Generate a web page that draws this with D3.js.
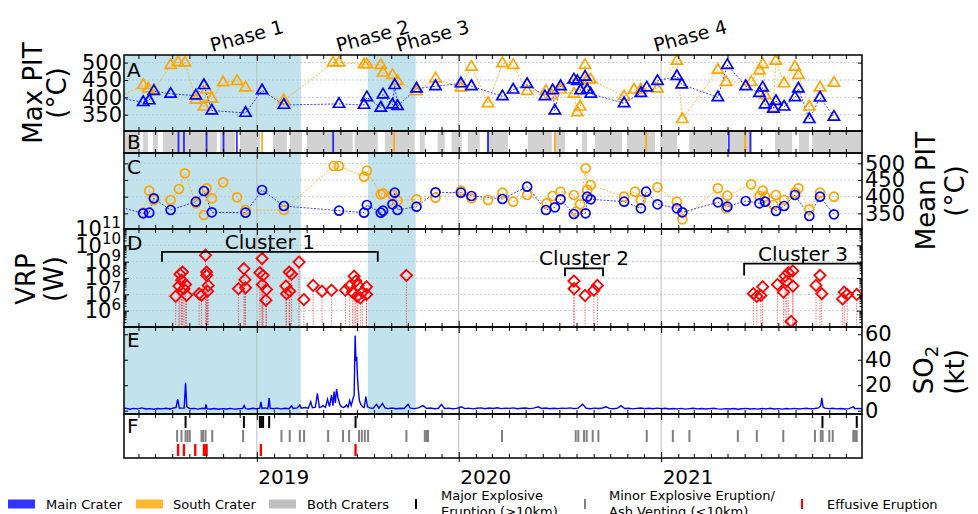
<!DOCTYPE html>
<html><head><meta charset="utf-8">
<script src="https://cdn.jsdelivr.net/npm/d3@7"></script>
<style>body{margin:0;background:#fff} svg text{font-family:"DejaVu Sans",sans-serif;fill:#000}</style>
</head><body><svg id="c" width="978" height="514"></svg>
<script>
// ---------------- DATA (dates as decimal years) ----------------
const phaseShade = [[2018.30, 2019.218], [2019.550, 2019.787]];
const phaseNames = ["Phase 1", "Phase 2", "Phase 3", "Phase 4"];
const phaseLabelAt = [2018.950, 2019.574, 2019.871, 2021.144];

const mainMaxPIT = [[2018.30,400],[2018.437,386],[2018.467,391],[2018.490,418],[2018.573,410],[2018.698,405],[2018.738,435],[2018.777,362],[2018.944,355],[2019.026,420],[2019.134,378],[2019.407,381],[2019.531,378],[2019.545,400],[2019.614,370],[2019.625,408],[2019.672,379],[2019.683,435],[2019.697,375],[2019.791,425],[2019.885,432],[2020.011,440],[2020.063,432],[2020.216,403],[2020.269,422],[2020.338,438],[2020.426,403],[2020.464,420],[2020.475,362],[2020.503,432],[2020.569,451],[2020.586,447],[2020.602,420],[2020.624,459],[2020.635,422],[2020.652,410],[2020.817,383],[2020.900,412],[2020.929,428],[2020.982,447],[2021.078,461],[2021.102,437],[2021.281,400],[2021.328,493],[2021.419,432],[2021.487,412],[2021.503,428],[2021.515,379],[2021.556,367],[2021.569,389],[2021.609,373],[2021.663,400],[2021.680,425],[2021.734,337],[2021.787,399],[2021.856,344]];

const southMaxPIT = [[2018.30,396],[2018.437,435],[2018.462,425],[2018.490,420],[2018.573,493],[2018.610,501],[2018.644,500],[2018.698,393],[2018.738,373],[2018.751,422],[2018.777,396],[2018.833,443],[2018.902,447],[2018.944,428],[2019.134,391],[2019.378,500],[2019.407,500],[2019.531,495],[2019.545,495],[2019.614,493],[2019.625,471],[2019.672,464],[2019.697,447],[2019.791,417],[2019.885,454],[2020.011,428],[2020.063,488],[2020.145,383],[2020.216,498],[2020.269,493],[2020.338,418],[2020.431,418],[2020.459,406],[2020.503,422],[2020.569,410],[2020.586,357],[2020.600,373],[2020.624,493],[2020.635,451],[2020.652,451],[2020.817,403],[2020.866,422],[2020.900,422],[2020.982,425],[2021.078,505],[2021.105,337],[2021.281,479],[2021.322,444],[2021.446,444],[2021.487,477],[2021.503,495],[2021.515,406],[2021.556,370],[2021.568,505],[2021.609,440],[2021.663,488],[2021.680,464],[2021.734,373],[2021.787,428],[2021.856,442]];

const mainMeanPIT = [[2018.30,372],[2018.437,350],[2018.467,352],[2018.490,395],[2018.573,360],[2018.698,385],[2018.738,417],[2018.777,353],[2018.944,352],[2019.026,420],[2019.134,372],[2019.407,358],[2019.531,352],[2019.545,375],[2019.614,352],[2019.625,358],[2019.672,377],[2019.683,412],[2019.697,360],[2019.791,370],[2019.885,413],[2020.011,412],[2020.063,402],[2020.216,393],[2020.338,430],[2020.431,360],[2020.475,368],[2020.503,392],[2020.569,348],[2020.627,350],[2020.635,400],[2020.652,392],[2020.817,385],[2020.900,365],[2020.926,415],[2020.982,377],[2021.078,365],[2021.105,353],[2021.281,383],[2021.328,370],[2021.419,387],[2021.487,380],[2021.515,385],[2021.569,357],[2021.609,372],[2021.663,405],[2021.734,342],[2021.787,400],[2021.856,347]];

const southMeanPIT = [[2018.437,352],[2018.467,418],[2018.490,390],[2018.573,390],[2018.614,423],[2018.644,470],[2018.698,380],[2018.738,345],[2018.751,425],[2018.777,395],[2018.833,443],[2018.902,398],[2018.944,360],[2019.134,360],[2019.381,492],[2019.407,492],[2019.531,460],[2019.545,478],[2019.614,407],[2019.625,410],[2019.672,405],[2019.697,388],[2019.791,392],[2019.885,397],[2020.011,418],[2020.063,395],[2020.145,390],[2020.216,412],[2020.269,385],[2020.338,405],[2020.434,380],[2020.464,402],[2020.503,415],[2020.569,405],[2020.579,355],[2020.600,377],[2020.627,485],[2020.635,420],[2020.652,435],[2020.817,400],[2020.871,415],[2020.900,390],[2020.982,428],[2021.078,385],[2021.105,332],[2021.281,425],[2021.322,365],[2021.328,403],[2021.446,437],[2021.487,402],[2021.503,418],[2021.515,400],[2021.556,375],[2021.568,405],[2021.609,390],[2021.663,412],[2021.680,425],[2021.734,362],[2021.787,412],[2021.856,400]];

// Panel B: detection coverage (both craters), main-only and south-only days
const bothCraterSpans = [[2018.347,2018.411],[2018.436,2018.460],[2018.485,2018.510],[2018.535,2018.802],[2018.817,2018.891],[2018.916,2019.015],[2019.079,2019.149],[2019.163,2019.223],[2019.248,2019.475],[2019.485,2019.599],[2019.634,2019.782],[2019.807,2019.832],[2019.896,2019.931],[2019.965,2020.015],[2020.045,2020.104],[2020.139,2020.243],[2020.342,2020.460],[2020.475,2020.525],[2020.609,2020.634],[2020.673,2020.807],[2020.832,2020.970],[2020.995,2021.079],[2021.139,2021.327],[2021.337,2021.450],[2021.564,2021.649],[2021.683,2021.733],[2021.748,2021.995]];
const mainOnlyDays = [2018.612,2018.639,2018.751,2018.835,2018.901,2019.378,2020.145,2021.335,2021.442];
const southOnlyDays = [2019.026,2019.680,2020.475,2020.926,2021.417];

// Panel D: VRP (W)
const vrp = [[2018.598,7.6e6],[2018.614,3.2e7],[2018.619,1.7e8],[2018.627,7.4e7],[2018.632,2.3e8],[2018.639,2.2e7],[2018.647,4.0e7],[2018.652,8.7e6],[2018.714,1.1e7],[2018.726,8.7e6],[2018.746,2.5e9],[2018.751,2.3e8],[2018.752,1.45e8],[2018.756,1.55e7],[2018.759,3.5e7],[2018.909,2.2e7],[2018.936,3.7e8],[2018.941,7.9e7],[2018.944,2.5e7],[2019.015,2.1e8],[2019.026,1.55e9],[2019.031,1.45e8],[2019.027,4.0e7],[2019.048,2.0e7],[2019.045,4.4e6],[2019.144,3.2e7],[2019.147,1.1e7],[2019.160,2.3e8],[2019.172,1.7e8],[2019.163,1.55e7],[2019.209,9.5e8],[2019.233,4.8e6],[2019.279,3.5e7],[2019.323,1.55e7],[2019.370,1.8e7],[2019.439,1.8e7],[2019.460,3.2e7],[2019.474,1.35e7],[2019.482,1.3e8],[2019.490,6.5e7],[2019.497,7.6e6],[2019.501,3.5e7],[2019.513,6.0e6],[2019.523,1.35e7],[2019.543,2.9e7],[2019.544,9.8e6],[2019.741,1.45e8],[2020.569,6.5e7],[2020.570,2.2e7],[2020.624,8.5e6],[2020.668,1.8e7],[2020.685,3.5e7],[2021.457,1.1e7],[2021.474,7.6e6],[2021.494,8.5e6],[2021.503,2.9e7],[2021.576,4.0e7],[2021.606,1.35e7],[2021.614,1.3e8],[2021.622,6.5e7],[2021.630,2.1e8],[2021.644,2.2e5],[2021.652,2.7e8],[2021.653,3.2e7],[2021.767,3.5e7],[2021.787,1.45e8],[2021.796,1.1e7],[2021.899,5.2e6],[2021.907,1.35e7],[2021.922,9.8e6],[2021.969,9.8e6]];
const clusterNames = ["Cluster 1", "Cluster 2", "Cluster 3"];
const clusterSpans = [[2018.530, 2019.599], [2020.525, 2020.713], [2021.411, 2021.995]];

// Panel E: SO2 (kt)
const so2 = [[2018.33,1.5],[2018.35,2.0],[2018.37,1.2],[2018.39,1.8],[2018.41,1.4],[2018.43,2.2],[2018.45,1.3],[2018.47,1.6],[2018.49,1.1],[2018.51,1.7],[2018.53,1.4],[2018.55,1.9],[2018.57,1.3],[2018.60,2.5],[2018.608,9],[2018.616,2],[2018.640,2.0],[2018.647,22],[2018.653,3],[2018.67,1.5],[2018.69,1.8],[2018.71,1.2],[2018.73,1.9],[2018.744,1.6],[2018.748,5],[2018.753,1.5],[2018.77,1.3],[2018.79,1.7],[2018.81,1.1],[2018.83,1.6],[2018.85,1.3],[2018.87,1.8],[2018.89,1.2],[2018.91,1.5],[2018.930,1.8],[2018.937,4],[2018.944,1.6],[2018.96,1.3],[2018.98,1.9],[2019.00,1.4],[2019.015,2.0],[2019.020,7],[2019.026,1.8],[2019.04,2.2],[2019.055,1.6],[2019.061,10],[2019.066,2],[2019.08,1.5],[2019.10,2.0],[2019.12,1.4],[2019.14,1.9],[2019.16,1.6],[2019.172,3.7],[2019.18,1.7],[2019.20,2.2],[2019.213,4.5],[2019.22,1.9],[2019.24,2.5],[2019.255,2.0],[2019.267,7],[2019.275,2.3],[2019.29,2.8],[2019.300,13.7],[2019.31,2.4],[2019.32,3.0],[2019.328,4],[2019.34,2.6],[2019.350,9],[2019.36,3.2],[2019.370,12.3],[2019.377,4],[2019.383,15],[2019.389,6],[2019.395,17],[2019.402,10],[2019.411,5],[2019.42,3.0],[2019.43,2.5],[2019.437,3.2],[2019.444,4.5],[2019.452,2.8],[2019.460,8],[2019.467,4],[2019.477,9.7],[2019.482,12],[2019.487,59],[2019.491,40],[2019.495,41],[2019.499,25],[2019.503,16],[2019.508,8],[2019.515,5],[2019.525,3],[2019.532,2.5],[2019.540,11],[2019.548,3],[2019.56,2.2],[2019.575,1.8],[2019.593,5],[2019.605,2.0],[2019.622,5.7],[2019.635,2.2],[2019.65,1.6],[2019.67,2.1],[2019.69,1.5],[2019.71,1.9],[2019.73,1.7],[2019.749,5],[2019.76,2.0],[2019.78,1.6],[2019.80,2.2],[2019.823,4],[2019.84,1.8],[2019.86,2.1],[2019.88,1.5],[2019.90,1.9],[2019.914,5],[2019.93,1.7],[2019.95,2.0],[2019.97,1.5],[2019.99,1.8],[2020.013,3],[2020.03,1.6],[2020.05,2.0],[2020.07,1.4],[2020.09,1.9],[2020.11,2.2],[2020.13,1.5],[2020.15,2.1],[2020.17,1.7],[2020.19,2.3],[2020.21,1.6],[2020.23,2.0],[2020.25,1.8],[2020.27,2.2],[2020.29,1.5],[2020.31,1.9],[2020.33,2.1],[2020.35,1.6],[2020.37,2.0],[2020.393,3],[2020.41,1.7],[2020.43,2.1],[2020.45,1.5],[2020.47,1.9],[2020.49,1.6],[2020.51,2.0],[2020.53,1.8],[2020.55,2.2],[2020.57,1.6],[2020.59,2.0],[2020.612,5],[2020.63,1.9],[2020.65,1.5],[2020.67,2.0],[2020.69,1.7],[2020.71,2.1],[2020.728,3],[2020.745,1.8],[2020.765,1.5],[2020.785,2.0],[2020.802,4],[2020.82,1.7],[2020.84,1.9],[2020.86,1.4],[2020.88,1.8],[2020.90,2.1],[2020.92,1.6],[2020.94,1.9],[2020.96,1.5],[2020.98,2.0],[2021.00,1.6],[2021.02,1.9],[2021.04,1.3],[2021.06,1.7],[2021.08,1.4],[2021.10,1.8],[2021.12,1.2],[2021.14,1.6],[2021.16,1.9],[2021.18,1.4],[2021.20,1.7],[2021.22,1.3],[2021.24,1.6],[2021.26,1.9],[2021.28,1.4],[2021.30,1.2],[2021.32,1.6],[2021.34,1.3],[2021.36,1.7],[2021.38,1.1],[2021.40,1.5],[2021.42,1.8],[2021.44,1.3],[2021.46,1.6],[2021.48,1.2],[2021.50,1.7],[2021.52,1.4],[2021.54,1.9],[2021.56,1.3],[2021.58,1.6],[2021.60,1.2],[2021.62,1.7],[2021.64,1.4],[2021.66,1.8],[2021.68,1.3],[2021.70,1.6],[2021.72,1.9],[2021.74,1.4],[2021.76,1.7],[2021.78,2.2],[2021.790,4],[2021.796,10],[2021.802,3],[2021.81,2.0],[2021.83,1.6],[2021.85,1.9],[2021.87,1.4],[2021.89,1.7],[2021.91,1.3],[2021.93,1.6],[2021.952,3],[2021.96,1.5],[2021.98,1.8],[2022.00,1.4]];

// Panel F: eruption events
const majorEruptions = [2018.647,2018.936,2019.015,2019.023,2019.031,2019.061,2019.489,2021.799,2021.969];
const minorEruptions = [2018.605,2018.627,2018.647,2018.657,2018.668,2018.726,2018.734,2018.746,2018.779,2018.932,2019.122,2019.163,2019.213,2019.234,2019.353,2019.427,2019.457,2019.506,2019.520,2019.535,2019.551,2019.741,2019.832,2019.840,2019.848,2020.214,2020.578,2020.591,2020.619,2020.632,2020.662,2020.690,2020.929,2021.058,2021.140,2021.380,2021.474,2021.605,2021.762,2021.791,2021.800,2021.833,2021.850,2021.952,2021.960,2021.969];
const effusiveEruptions = [2018.610,2018.639,2018.695,2018.738,2018.746,2018.751,2019.020,2019.489];

const pitTicks = [350, 400, 450, 500];
const vrpTicks = [1e6, 1e7, 1e8, 1e9, 1e10, 1e11];
const so2Ticks = [0, 20, 40, 60];
const yearLabels = [2019, 2020, 2021];

// ---------------- LAYOUT ----------------
const X0 = 124, X1 = 862;
const P = {A:[55,131], B:[131,153], C:[153,229], D:[229,327], E:[327,414], F:[414,458]};
const BLUE = "#0000ff", ORANGE = "#ffa500", SHADE = "#add8e6";
const FONT = '"DejaVu Sans", sans-serif';

function yd(y) {
  const yr = Math.floor(y);
  const s = Date.UTC(yr, 0, 1), e = Date.UTC(yr + 1, 0, 1);
  return new Date(s + (y - yr) * (e - s));
}
const x = d3.scaleUtc().domain([yd(2018.342), yd(2021.995)]).range([X0, X1]);
const yA = d3.scaleLinear().domain([303, 522]).range([P.A[1], P.A[0]]);
const yC = d3.scaleLinear().domain([303, 531]).range([P.C[1], P.C[0]]);
const yD = d3.scaleLog().domain([1e5, 1e11]).range([P.D[1], P.D[0]]);
const yE = d3.scaleLinear().domain([-2.6, 65.7]).range([P.E[1], P.E[0]]);
const yF = d3.scaleBand().domain(["major", "minor", "effusive"]).range([P.F[0] + 2, P.F[1] - 2]).paddingInner(0.15);

const svg = d3.select("#c");
const defs = svg.append("defs");
for (const k in P) {
  defs.append("clipPath").attr("id", "clip" + k).append("rect")
    .attr("x", X0).attr("y", P[k][0]).attr("width", X1 - X0).attr("height", P[k][1] - P[k][0]);
}
const gx = v => x(yd(v));

// shading
["A", "C", "D", "E"].forEach(k => {
  svg.append("g").attr("clip-path", `url(#clip${k})`).selectAll("rect").data(phaseShade).join("rect")
    .attr("x", d => gx(d[0])).attr("width", d => gx(d[1]) - gx(d[0]))
    .attr("y", P[k][0]).attr("height", P[k][1] - P[k][0])
    .attr("fill", SHADE).attr("fill-opacity", 0.75);
});

// horizontal grids
function hgrid(scale, vals, color) {
  svg.append("g").selectAll("line").data(vals).join("line")
    .attr("x1", X0).attr("x2", X1).attr("y1", d => scale(d)).attr("y2", d => scale(d))
    .attr("stroke", color).attr("stroke-width", 0.8).attr("stroke-dasharray", "2,2");
}
hgrid(yA, pitTicks, "#a9bfe0");
hgrid(yC, pitTicks, "#a9bfe0");
hgrid(yD, [1e6, 1e7, 1e8, 1e9, 1e10], "#bdbdbd");

// year gridlines
const years = d3.utcYear.range(x.domain()[0], x.domain()[1]).filter(d => d > x.domain()[0]);
svg.append("g").selectAll("line").data(years).join("line")
  .attr("x1", d => x(d)).attr("x2", d => x(d)).attr("y1", P.A[0]).attr("y2", P.F[1])
  .attr("stroke", "#bcbcbc").attr("stroke-width", 1);

// ---- Panels A and C
function pitPanel(k, scale, main, south, sym) {
  const g = svg.append("g").attr("clip-path", `url(#clip${k})`);
  const line = d3.line().x(d => gx(d[0])).y(d => scale(d[1]));
  [[south, ORANGE], [main, BLUE]].forEach(([data, col]) => {
    g.append("path").datum(data).attr("d", line).attr("fill", "none")
      .attr("stroke", col).attr("stroke-width", 1).attr("stroke-dasharray", "2,1.5").attr("stroke-opacity", 0.75);
  });
  [[south, ORANGE], [main, BLUE]].forEach(([data, col]) => {
    g.append("g").selectAll("path").data(data).join("path")
      .attr("d", sym).attr("transform", d => `translate(${gx(d[0])},${scale(d[1])})`)
      .attr("fill", "none").attr("stroke", col).attr("stroke-width", 1.7);
  });
}
const tri = "M0,-6.2 L5.6,3.3 L-5.6,3.3 Z";
const circ = d3.symbol().type(d3.symbolCircle).size(Math.PI * 4.5 * 4.5)();
pitPanel("A", yA, mainMaxPIT, southMaxPIT, tri);
pitPanel("C", yC, mainMeanPIT, southMeanPIT, circ);

// ---- Panel B
const gB = svg.append("g").attr("clip-path", "url(#clipB)");
gB.selectAll("rect").data(bothCraterSpans).join("rect")
  .attr("x", d => gx(d[0])).attr("width", d => gx(d[1]) - gx(d[0]))
  .attr("y", P.B[0]).attr("height", P.B[1] - P.B[0]).attr("fill", "#d2d2d2");
gB.append("g").selectAll("line").data(mainOnlyDays).join("line")
  .attr("x1", d => gx(d)).attr("x2", d => gx(d)).attr("y1", P.B[0]).attr("y2", P.B[1])
  .attr("stroke", BLUE).attr("stroke-width", 1.8).attr("stroke-opacity", 0.8);
gB.append("g").selectAll("line").data(southOnlyDays).join("line")
  .attr("x1", d => gx(d)).attr("x2", d => gx(d)).attr("y1", P.B[0]).attr("y2", P.B[1])
  .attr("stroke", ORANGE).attr("stroke-width", 1.8).attr("stroke-opacity", 0.9);

// ---- Panel D
const gD = svg.append("g").attr("clip-path", "url(#clipD)");
const dia = "M0,-5.6 L5.6,0 L0,5.6 L-5.6,0 Z";
gD.append("g").selectAll("line").data(vrp).join("line")
  .attr("x1", d => gx(d[0])).attr("x2", d => gx(d[0]))
  .attr("y1", d => yD(d[1]) + 5.6).attr("y2", P.D[1])
  .attr("stroke", "#ff0000").attr("stroke-width", 1).attr("stroke-dasharray", "1.5,1.2").attr("stroke-opacity", 0.55);
gD.append("g").selectAll("path").data(vrp).join("path")
  .attr("d", dia).attr("transform", d => `translate(${gx(d[0])},${yD(d[1])})`)
  .attr("fill", "none").attr("stroke", "#ff0000").attr("stroke-width", 1.8);

// cluster brackets
const clusterLevel = [4e9, 3.9e8, 7.6e8];
const clusterDrop = [10, 8, 12];
const gCl = svg.append("g").attr("clip-path", "url(#clipD)");
clusterNames.forEach((name, i) => {
  const xa = gx(clusterSpans[i][0]), xb = gx(clusterSpans[i][1]), yl = yD(clusterLevel[i]);
  const xm = (xa + xb) / 2;
  gCl.append("path").attr("d", `M${xa},${yl + clusterDrop[i]}V${yl}H${xb}V${yl + clusterDrop[i]}M${xm},${yl}V${yl - 5}`)
    .attr("fill", "none").attr("stroke", "#000").attr("stroke-width", 1.8);
  svg.append("text").attr("x", xm).attr("y", yl - 3).attr("text-anchor", "middle")
    .attr("font-size", 20).text(name);
});

// ---- Panel E
svg.append("g").attr("clip-path", "url(#clipE)").append("path").datum(so2)
  .attr("d", d3.line().x(d => gx(d[0])).y(d => yE(d[1])))
  .attr("fill", "none").attr("stroke", BLUE).attr("stroke-width", 1.4);

// ---- Panel F
[["major", majorEruptions, "#000000", 2], ["minor", minorEruptions, "#808080", 2], ["effusive", effusiveEruptions, "#ff0000", 2.4]]
  .forEach(([row, data, col, w]) => {
    svg.append("g").selectAll("line").data(data).join("line")
      .attr("x1", d => gx(d)).attr("x2", d => gx(d))
      .attr("y1", yF(row)).attr("y2", yF(row) + yF.bandwidth())
      .attr("stroke", col).attr("stroke-width", w);
  });

// ---------------- AXES ----------------
const months = d3.utcMonth.range(x.domain()[0], x.domain()[1]).filter(d => d.getUTCMonth() !== 0);
function styleAxis(g, fs) {
  g.select(".domain").remove();
  g.selectAll(".tick line").attr("stroke", "#000").attr("stroke-width", 1);
  g.selectAll(".tick text").attr("font-size", fs || 21).attr("font-family", FONT).attr("fill", "#000");
  return g;
}
for (const k in P) {
  const [t, b] = P[k];
  styleAxis(svg.append("g").attr("transform", `translate(0,${t})`)
    .call(d3.axisTop(x).tickValues(months).tickSizeInner(-4).tickSizeOuter(0).tickFormat("")));
  styleAxis(svg.append("g").attr("transform", `translate(0,${b})`)
    .call(d3.axisBottom(x).tickValues(months).tickSizeInner(-4).tickSizeOuter(0).tickFormat("")));
  styleAxis(svg.append("g").attr("transform", `translate(0,${t})`)
    .call(d3.axisTop(x).tickValues(years).tickSizeInner(-6).tickSizeOuter(0).tickFormat("")));
  styleAxis(svg.append("g").attr("transform", `translate(0,${b})`)
    .call(d3.axisBottom(x).tickValues(years).tickSizeInner(-6).tickSizeOuter(0).tickFormat("")));
}
// outer year ticks + labels on bottom
const xb = svg.append("g").attr("transform", `translate(0,${P.F[1]})`)
  .call(d3.axisBottom(x).tickValues(yearLabels.map(yd)).tickSizeInner(4).tickSizeOuter(0).tickPadding(8)
    .tickFormat(d3.utcFormat("%Y")));
styleAxis(xb, 20);
xb.selectAll(".tick text").attr("text-anchor", "start").attr("dx", 1);

// A axes
styleAxis(svg.append("g").attr("transform", `translate(${X0},0)`)
  .call(d3.axisLeft(yA).tickValues(pitTicks).tickSizeInner(-4).tickSizeOuter(0).tickPadding(2)));
styleAxis(svg.append("g").attr("transform", `translate(${X1},0)`)
  .call(d3.axisRight(yA).tickValues(pitTicks).tickSizeInner(-4).tickSizeOuter(0).tickFormat("")));
// C axes
styleAxis(svg.append("g").attr("transform", `translate(${X0},0)`)
  .call(d3.axisLeft(yC).tickValues(pitTicks).tickSizeInner(-4).tickSizeOuter(0).tickFormat("")));
styleAxis(svg.append("g").attr("transform", `translate(${X1},0)`)
  .call(d3.axisRight(yC).tickValues(pitTicks).tickSizeInner(-4).tickSizeOuter(0).tickPadding(3)));
// D axes
const minorLog = [];
for (let e = 5; e < 11; e++) for (let m = 2; m < 10; m++) minorLog.push(m * Math.pow(10, e));
[[d3.axisLeft, X0], [d3.axisRight, X1]].forEach(([ax, px]) => {
  styleAxis(svg.append("g").attr("transform", `translate(${px},0)`)
    .call(ax(yD).tickValues(minorLog).tickSizeInner(-2.5).tickSizeOuter(0).tickFormat("")));
  styleAxis(svg.append("g").attr("transform", `translate(${px},0)`)
    .call(ax(yD).tickValues([1e5].concat(vrpTicks)).tickSizeInner(-5).tickSizeOuter(0).tickFormat("")));
});
const gDL = svg.append("g").attr("transform", `translate(${X0},0)`)
  .call(d3.axisLeft(yD).tickValues(vrpTicks).tickSize(0).tickPadding(3).tickFormat(""));
styleAxis(gDL, 21);
gDL.selectAll(".tick text").each(function (d) {
  const t = d3.select(this);
  t.append("tspan").text("10");
  t.append("tspan").attr("dy", "-0.55em").attr("font-size", 15).text(Math.round(Math.log10(d)));
});
// E axes
styleAxis(svg.append("g").attr("transform", `translate(${X0},0)`)
  .call(d3.axisLeft(yE).tickValues(so2Ticks).tickSizeInner(-4).tickSizeOuter(0).tickFormat("")));
styleAxis(svg.append("g").attr("transform", `translate(${X1},0)`)
  .call(d3.axisRight(yE).tickValues(so2Ticks).tickSizeInner(-4).tickSizeOuter(0).tickPadding(3)));

// frames
for (const k in P) {
  svg.append("rect").attr("x", X0).attr("y", P[k][0]).attr("width", X1 - X0).attr("height", P[k][1] - P[k][0])
    .attr("fill", "none").attr("stroke", "#000").attr("stroke-width", 1.5);
}

// panel letters
const letterBase = {A:77, B:149, C:174, D:250, E:347, F:433};
for (const k in letterBase) {
  svg.append("text").attr("x", 127).attr("y", letterBase[k]).attr("font-size", 20).text(k);
}

// phase labels
phaseNames.forEach((n, i) => {
  svg.append("text").attr("transform", `translate(${gx(phaseLabelAt[i])},36) rotate(-15)`)
    .attr("text-anchor", "middle").attr("dy", "0.35em").attr("font-size", 19).text(n);
});

// axis titles (rotated)
function vlabel(xb, cy, parts, fs) {
  const t = svg.append("text").attr("transform", `translate(${xb},${cy}) rotate(-90)`)
    .attr("text-anchor", "middle").attr("font-size", fs || 26);
  parts.forEach(p => {
    const s = t.append("tspan").text(p.t);
    if (p.sub) s.attr("font-size", 18).attr("dy", "0.25em");
  });
  return t;
}
vlabel(42, 93, [{t: "Max PIT"}]);
vlabel(66, 93, [{t: "(°C)"}]);
vlabel(35, 279, [{t: "VRP"}]);
vlabel(63, 279, [{t: "(W)"}]);
vlabel(935, 191, [{t: "Mean PIT"}]);
vlabel(964, 191, [{t: "(°C)"}]);
vlabel(933, 370, [{t: "SO"}, {t: "2", sub: true}]);
vlabel(964, 372, [{t: "(kt)"}]);

// legend
const legPatches = [["Main Crater", "#3333ff", 8, 46], ["South Crater", "#ffb733", 136, 173], ["Both Craters", "#bfbfbf", 269, 307]];
legPatches.forEach(([n, c, px, tx]) => {
  svg.append("rect").attr("x", px).attr("y", 499.5).attr("width", 27).attr("height", 9).attr("fill", c);
  svg.append("text").attr("x", tx).attr("y", 508.5).attr("font-size", 13).text(n);
});
const legTicks = [[["Major Explosive", "Eruption (>10km)"], "#000000", 416, 441], [["Minor Explosive Eruption/", "Ash Venting (<10km)"], "#808080", 585, 609], [["Effusive Eruption"], "#ff0000", 802, 827]];
legTicks.forEach(([lines, c, px, tx]) => {
  svg.append("line").attr("x1", px).attr("x2", px).attr("y1", 499).attr("y2", 509).attr("stroke", c).attr("stroke-width", 2);
  if (lines.length === 1) svg.append("text").attr("x", tx).attr("y", 508.5).attr("font-size", 13).text(lines[0]);
  else lines.forEach((l, i) => svg.append("text").attr("x", tx).attr("y", 500 + i * 16).attr("font-size", 13).text(l));
});
</script>
</body></html>
